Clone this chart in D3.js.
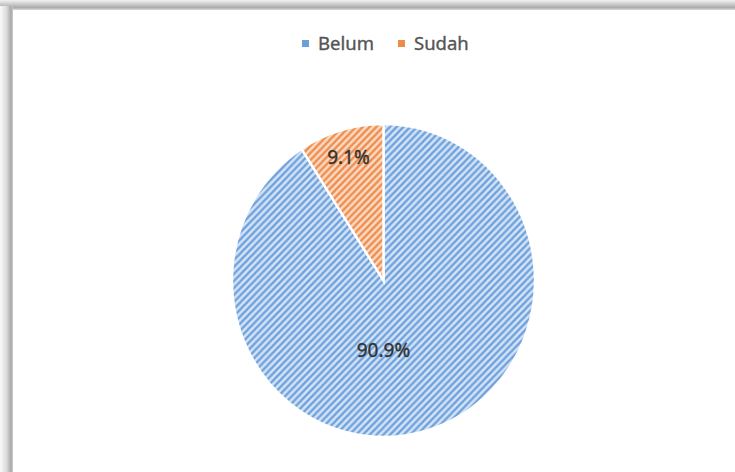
<!DOCTYPE html>
<html>
<head>
<meta charset="utf-8">
<script src="https://cdn.jsdelivr.net/npm/d3@7"></script>
<style>
  body { margin: 0; background: #fff; }
  text { font-family: "Noto Sans", sans-serif; }
</style>
</head>
<body>
<div id="chart"></div>
<script>
var categories = ["Belum", "Sudah"];
var values = [90.9, 9.1];
var labels = ["90.9%", "9.1%"];
var lineColors = ["#6b9fdc", "#ee8a4a"];
var bgColors = ["#d6e5f7", "#fcdcc6"];

var W = 735, H = 472;

var svg = d3.select("#chart").append("svg")
  .attr("width", W)
  .attr("height", H);

var defs = svg.append("defs");

// shadow of the chart frame
var gTop = defs.append("linearGradient").attr("id", "shTop")
  .attr("x1", 0).attr("y1", 0).attr("x2", 0).attr("y2", 1);
gTop.append("stop").attr("offset", "0%").attr("stop-color", "#f2f2f2");
gTop.append("stop").attr("offset", "75%").attr("stop-color", "#acacac");
gTop.append("stop").attr("offset", "100%").attr("stop-color", "#d9d9d9");

var gLeft = defs.append("linearGradient").attr("id", "shLeft")
  .attr("x1", 0).attr("y1", 0).attr("x2", 1).attr("y2", 0);
gLeft.append("stop").attr("offset", "0%").attr("stop-color", "#fafafa");
gLeft.append("stop").attr("offset", "50%").attr("stop-color", "#dcdcdc");
gLeft.append("stop").attr("offset", "85%").attr("stop-color", "#a8a8a8");
gLeft.append("stop").attr("offset", "100%").attr("stop-color", "#cfcfcf");

svg.append("rect").attr("width", W).attr("height", H).attr("fill", "#fff");
svg.append("rect").attr("x", 0).attr("y", 0).attr("width", W).attr("height", 10).attr("fill", "url(#shTop)");
svg.append("rect").attr("x", 0).attr("y", 6).attr("width", 13).attr("height", H).attr("fill", "url(#shLeft)");

// hatch patterns (wide upward diagonal)
categories.forEach(function (c, i) {
  var p = defs.append("pattern")
    .attr("id", "hatch" + i)
    .attr("patternUnits", "userSpaceOnUse")
    .attr("width", 7)
    .attr("height", 7);
  p.append("rect").attr("width", 7).attr("height", 7).attr("fill", bgColors[i]);
  p.append("path")
    .attr("d", "M-2,2 L2,-2 M0,7 L7,0 M5,9 L9,5")
    .attr("stroke", lineColors[i])
    .attr("stroke-width", 2.3);
});

//--------------------------------

var R = 156.5;
var pie = d3.pie().sort(null).value(function (d) { return d; });
var arcs = pie(values);
var arc = d3.arc().innerRadius(0).outerRadius(R);
var labelArc = d3.arc().innerRadius(0).outerRadius(R * 1.64);

var g = svg.append("g")
  .attr("transform", "translate(383.5,280.5) scale(0.968,1)");

g.selectAll("path.slice").data(arcs).enter().append("path")
  .attr("class", "slice")
  .attr("d", arc)
  .attr("fill", function (d, i) { return "url(#hatch" + i + ")"; })
  .attr("stroke", "#fff")
  .attr("stroke-width", 2.5);

// data labels
svg.selectAll("text.lbl").data(arcs).enter().append("text")
  .attr("class", "lbl")
  .attr("x", function (d) {
    var c = labelArc.centroid(d);
    // the big slice gets its label centred, as Excel does
    return 383.5 + (d.endAngle - d.startAngle > Math.PI ? 0 : c[0] * 0.968);
  })
  .attr("y", function (d) {
    var c = (d.endAngle - d.startAngle > Math.PI) ? [0, 70] : labelArc.centroid(d);
    return 280.5 + c[1];
  })
  .attr("dy", "0.35em")
  .attr("text-anchor", "middle")
  .attr("font-size", 19)
  .attr("fill", "#333333")
  .attr("stroke", "#333333")
  .attr("stroke-width", 0.35)
  .text(function (d, i) { return labels[i]; });

// legend
var legendX = [302, 398];
var legend = svg.selectAll("g.leg").data(categories).enter().append("g")
  .attr("class", "leg")
  .attr("transform", function (d, i) { return "translate(" + legendX[i] + ",40)"; });

legend.append("rect")
  .attr("width", 7)
  .attr("height", 7)
  .attr("fill", function (d, i) { return lineColors[i]; });

legend.append("text")
  .attr("x", 16)
  .attr("y", 10)
  .attr("font-size", 18.5)
  .attr("fill", "#555555")
  .attr("stroke", "#555555")
  .attr("stroke-width", 0.35)
  .text(function (d) { return d; });
</script>
</body>
</html>
